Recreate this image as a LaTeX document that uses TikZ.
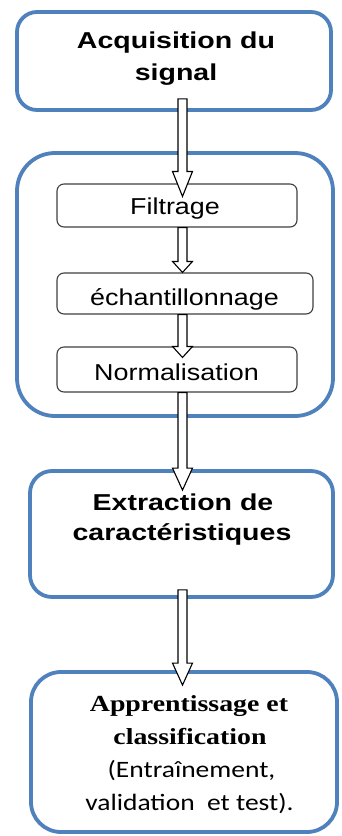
\documentclass[tikz,border=0pt]{standalone}
\usepackage{fontspec}
\usetikzlibrary{calc}
\newfontfamily\sansbold[FakeStretch=1.24]{Liberation Sans Bold}
\newfontfamily\sansreg[FakeStretch=1.17]{Liberation Sans}
\newfontfamily\serifbold[FakeStretch=1.21]{Liberation Serif Bold}
\newfontfamily\calireg[FakeStretch=1.17]{Carlito}
\definecolor{stageblue}{RGB}{79,129,189}
\definecolor{stepgray}{RGB}{64,64,64}

% hollow block arrow pointing down: #1 start, #2 tip, #3 head length
\newcommand\blockarrow[3]{%
  \draw[hollowarrow] let \p1=#1, \p2=#2 in
    (\x1-4.5pt,\y1) -- (\x1-4.5pt,\y2+#3) -- (\x1-10pt,\y2+#3) -- (\x1,\y2)
    -- (\x1+10pt,\y2+#3) -- (\x1+4.5pt,\y2+#3) -- (\x1+4.5pt,\y1) -- cycle;}

\tikzset{
  stage/.style={draw=stageblue, line width=3.8pt, fill=white, inner sep=0pt},
  substep/.style={draw=stepgray, line width=1.1pt, fill=white, rounded corners=7pt, inner sep=0pt},
  hollowarrow/.style={draw=black, line width=1.1pt, fill=white, line join=miter},
  boldlabel/.style={anchor=base, inner sep=0pt, font=\sansbold\fontsize{23}{26}\selectfont},
  steplabel/.style={anchor=base, inner sep=0pt, font=\sansreg\fontsize{23}{26}\selectfont},
  seriflabel/.style={anchor=base, inner sep=0pt, font=\serifbold\fontsize{23}{26}\selectfont},
  notelabel/.style={anchor=base, inner sep=0pt, font=\calireg\fontsize{23.5}{26}\selectfont},
}

\begin{document}
\begin{tikzpicture}[x=1pt,y=-1pt]
\useasboundingbox[fill=white] (0,0) rectangle (342,836);

% main stages
\node[stage, rounded corners=20pt, minimum width=314pt, minimum height=98pt] (acq) at (174,61) {};
\node[stage, rounded corners=38pt, minimum width=316pt, minimum height=263pt] (pre) at (175,284.5) {};
\node[stage, rounded corners=22pt, minimum width=303pt, minimum height=126pt] (ext) at (181.5,534) {};
\node[stage, rounded corners=30pt, minimum width=306pt, minimum height=160pt] (cls) at (184,752) {};

% pre-processing steps
\node[substep, minimum width=240pt, minimum height=43pt] (filt) at (177,205.5) {};
\node[substep, minimum width=256pt, minimum height=41pt] (ech) at (185,293.5) {};
\node[substep, minimum width=240pt, minimum height=45pt] (norm) at (177,369.5) {};

% labels
\node[boldlabel] (acq1) at (176,48) {Acquisition du};
\node[boldlabel] (acq2) at (176,80) {signal};
\node[steplabel] (filtl) at (175,214) {Filtrage};
\node[steplabel] (echl) at (184.5,305) {échantillonnage};
\node[steplabel] (norml) at (176.5,380) {Normalisation};
\node[boldlabel] (ext1) at (183,510) {Extraction de};
\node[boldlabel] (ext2) at (182,540) {caractéristiques};
\node[seriflabel] (cls1) at (189,711) {Apprentissage et};
\node[seriflabel] (cls2) at (190,744) {classification};
\node[notelabel] (cls3) at (191.5,777) {(Entraînement,};
\node[notelabel] (cls4) at (189.5,810) {validation\ \ et test).};

% connectors
\coordinate (axis) at (182.5,0);
\coordinate (a1s) at ($(acq.south -| axis)+(0,-13)$);
\coordinate (a1e) at ($(filt.north -| axis)+(0,13)$);
\coordinate (a2s) at (filt.south -| axis);
\coordinate (a2e) at (ech.north -| axis);
\coordinate (a3s) at (ech.south -| axis);
\coordinate (a3e) at ($(norm.north -| axis)+(0,11)$);
\coordinate (a4s) at (norm.south -| axis);
\coordinate (a4e) at ($(ext.north -| axis)+(0,21)$);
\coordinate (a5s) at ($(ext.south -| axis)+(0,-9)$);
\coordinate (a5e) at ($(cls.north -| axis)+(0,15)$);
\blockarrow{(a1s)}{(a1e)}{25pt}
\blockarrow{(a2s)}{(a2e)}{11pt}
\blockarrow{(a3s)}{(a3e)}{11pt}
\blockarrow{(a4s)}{(a4e)}{22pt}
\blockarrow{(a5s)}{(a5e)}{22pt}
\end{tikzpicture}
\end{document}
